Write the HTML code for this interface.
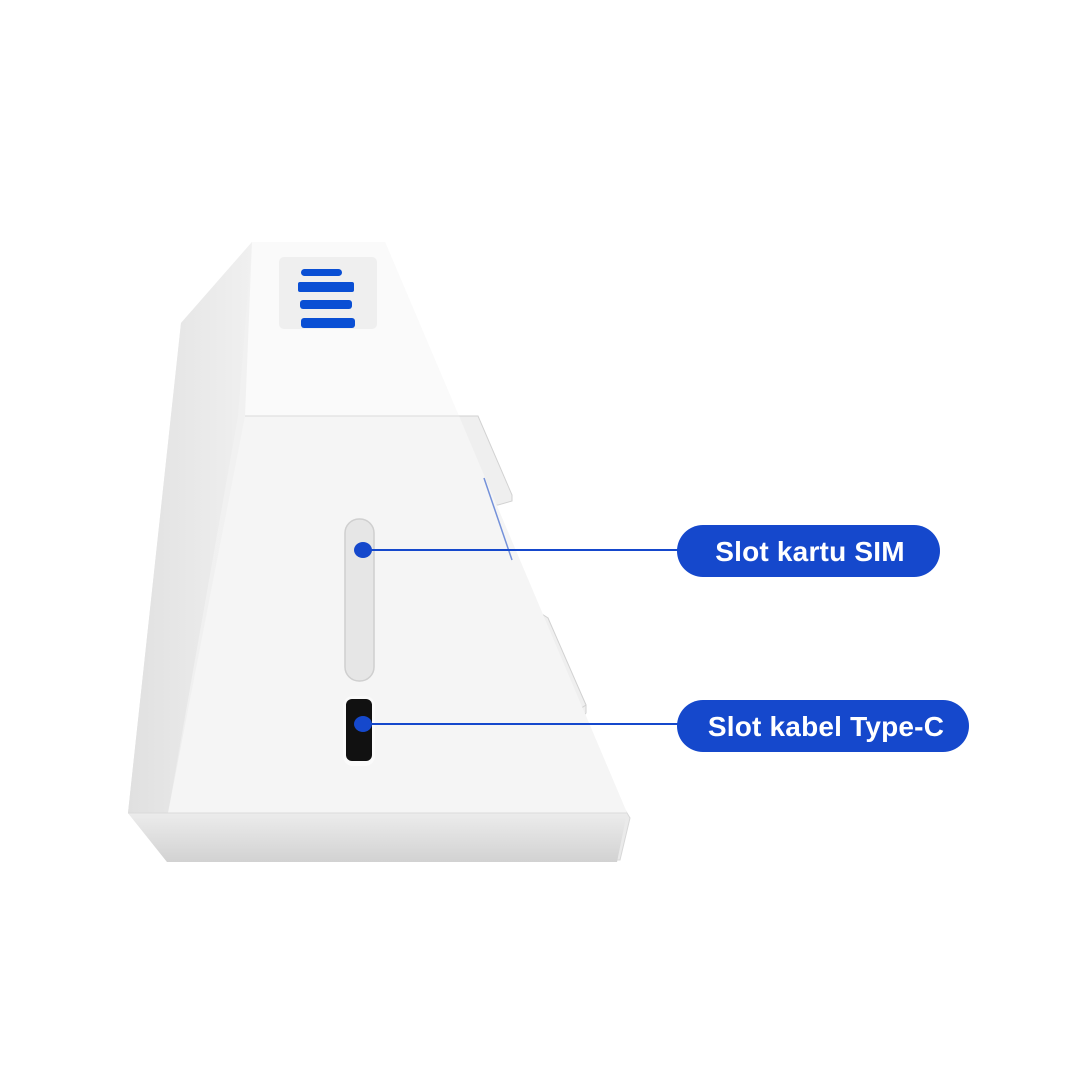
<!DOCTYPE html>
<html><head><meta charset="utf-8"><style>
html,body{margin:0;padding:0;background:#fff;}
svg{display:block}
</style></head><body>
<svg width="1080" height="1080" viewBox="0 0 1080 1080" xmlns="http://www.w3.org/2000/svg">
<defs>
<linearGradient id="body" x1="0" y1="0" x2="1" y2="0">
<stop offset="0" stop-color="#dedede"/><stop offset="0.12" stop-color="#f0f0f0"/><stop offset="0.6" stop-color="#f5f5f5"/><stop offset="1" stop-color="#ececec"/>
</linearGradient>
<linearGradient id="bot" x1="0" y1="0" x2="0" y2="1">
<stop offset="0" stop-color="#ececec"/><stop offset="1" stop-color="#d2d2d2"/>
</linearGradient>
<linearGradient id="left" x1="0" y1="0" x2="1" y2="0">
<stop offset="0" stop-color="#e0e0e0"/><stop offset="1" stop-color="#f0f0f0"/>
</linearGradient>
</defs>
<polygon points="455,416 478,416 512,495 512,501 498,505 494,505" fill="#efefef" stroke="#d2d2d2" stroke-width="1"/>
<polygon points="535,618 548,618 552,629 586,705 586,713 573,730 580,730" fill="#efefef" stroke="#d2d2d2" stroke-width="1"/>
<polygon points="520,600 548,618 586,705 575,712" fill="#efefef" stroke="#d2d2d2" stroke-width="1"/>
<polygon points="573,730 627,813 630,818 620,860 615,860" fill="#eaeaea" stroke="#d8d8d8" stroke-width="1"/>
<polygon points="252,242 385,242 627,813 617,862 167,862 128,813 181,323" fill="url(#body)"/>
<polygon points="252,242 181,323 128,813 168,813 238,416" fill="url(#left)"/>
<polygon points="245,416 459,416 627,813 168,813" fill="#f5f5f5"/>
<polygon points="252,242 385,242 459,416 245,416" fill="#fafafa"/>
<line x1="245" y1="416" x2="459" y2="416" stroke="#e4e4e4" stroke-width="1.5"/>
<line x1="484" y1="478" x2="512" y2="560" stroke="#2050c8" stroke-width="1.5" opacity="0.6"/>
<polygon points="128,813 627,813 617,862 167,862" fill="url(#bot)"/>
<line x1="128" y1="813" x2="627" y2="813" stroke="#dadada"/>
<rect x="279" y="257" width="98" height="72" rx="5" fill="#efefef"/>
<rect x="301" y="269" width="41" height="7" rx="3.5" fill="#0a4fd4"/>
<rect x="298" y="282" width="56" height="10" rx="2" fill="#0a4fd4"/>
<rect x="300" y="300" width="52" height="9" rx="3" fill="#0a4fd4"/>
<rect x="301" y="318" width="54" height="10" rx="3" fill="#0a4fd4"/>
<rect x="345" y="519" width="29" height="162" rx="14" fill="#e6e6e6" stroke="#cfcfcf" stroke-width="1.5"/>
<rect x="343" y="696" width="32" height="70" rx="10" fill="#fafafa"/>
<rect x="346" y="699" width="26" height="62" rx="6" fill="#111"/>
<line x1="363" y1="550" x2="680" y2="550" stroke="#1548cc" stroke-width="2"/>
<line x1="363" y1="724" x2="680" y2="724" stroke="#1548cc" stroke-width="2"/>
<ellipse cx="363" cy="550" rx="9" ry="8" fill="#1548cc"/>
<ellipse cx="363" cy="724" rx="9" ry="8" fill="#1548cc"/>
<rect x="677" y="525" width="263" height="52" rx="26" fill="#1548cc"/>
<rect x="677" y="700" width="292" height="52" rx="26" fill="#1548cc"/>
<text x="810" y="561" text-anchor="middle" font-family="Liberation Sans, sans-serif" font-weight="bold" font-size="28" letter-spacing="0.2" fill="#fff">Slot kartu SIM</text>
<text x="826" y="736" text-anchor="middle" font-family="Liberation Sans, sans-serif" font-weight="bold" font-size="28" letter-spacing="0.2" fill="#fff">Slot kabel Type-C</text>
</svg>
</body></html>
